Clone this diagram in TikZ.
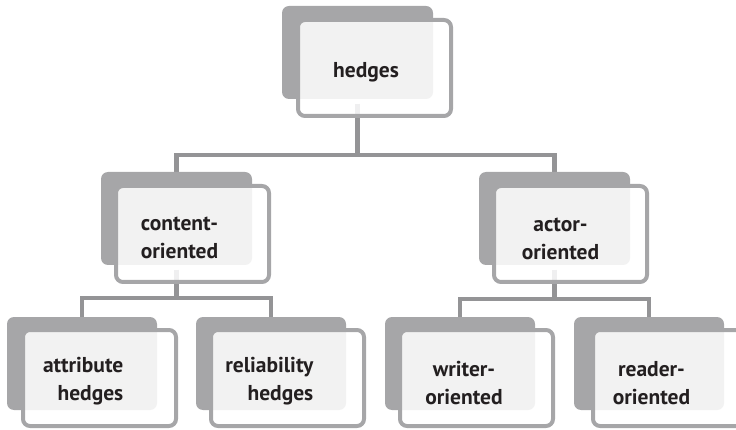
\documentclass[tikz,border=0pt]{standalone}
\usepackage{fontspec}
\setmainfont{PT Sans}
\usetikzlibrary{backgrounds}
\definecolor{boxgrey}{RGB}{166,166,168}
\definecolor{linegrey}{RGB}{148,148,150}
\definecolor{txtcol}{RGB}{35,31,32}
\begin{document}
\begin{tikzpicture}[x=1pt,y=-1pt,
  backbox/.style={fill=boxgrey, draw=none, rounded corners=7pt, minimum width=151pt, minimum height=93pt,
    inner sep=0pt, outer sep=0pt, anchor=north west},
  framebox/.style={draw=boxgrey, line width=4pt, fill=white, fill opacity=0.86, rounded corners=7pt,
    minimum width=153pt, minimum height=96pt, inner sep=0pt, outer sep=0pt, anchor=north west},
  label/.style={text=txtcol, inner sep=0pt, align=center, font=\fontsize{21.5}{27.5}\selectfont\bfseries},
  conn/.style={draw=linegrey, line width=4.5pt}]
\useasboundingbox (0,0) rectangle (736,430);
\clip (0,0) rectangle (736,430);
% back boxes
\node[backbox] (topbg) at (282,6) {};
\node[backbox] (contbg) at (101,172) {};
\node[backbox] (actbg) at (479,172) {};
\node[backbox, minimum width=150pt] (attrbg) at (7,317) {};
\node[backbox, minimum width=150pt] (relbg) at (196,317) {};
\node[backbox, minimum width=150pt] (wribg) at (385,317) {};
\node[backbox, minimum width=150pt] (reabg) at (574,317) {};
% frames
\node[framebox] (top) at (298,20) {};
\node[framebox] (cont) at (116,186) {};
\node[framebox] (act) at (494,186) {};
\node[framebox] (attr) at (23,330) {};
\node[framebox] (rel) at (211,330) {};
\node[framebox] (wri) at (400,330) {};
\node[framebox] (rea) at (593,330) {};
% texts
\node[label] (toptxt) at (366,72) {hedges};
\node[label] (conttxt) at (179.5,238) {content-\\oriented};
\node[label] (acttxt) at (560.5,239) {actor-\\oriented};
\node[label, align=right, anchor=east] (attrtxt) at (123.5,381) {attribute\\hedges};
\node[label, align=right, anchor=east] (reltxt) at (313.5,381) {reliability\\hedges};
\node[label] (writxt) at (464,383) {writer-\\oriented};
\node[label] (reatxt) at (651.5,383) {reader-\\oriented};
% connectors
\begin{scope}[on background layer]
\draw[conn] ([yshift=-5pt]topbg.south) -- ++(0,51) -| (contbg.north);
\draw[conn] ([yshift=-5pt]topbg.south) -- ++(0,51) -| (actbg.north);
\draw[conn] ([yshift=-5pt]contbg.south) -- ++(0,28) -| (attrbg.north);
\draw[conn] ([yshift=-5pt]contbg.south) -- ++(0,28) -| (relbg.north);
\draw[conn] ([yshift=-5pt]actbg.south) -- ++(0,29) -| (wribg.north);
\draw[conn] ([yshift=-5pt]actbg.south) -- ++(0,29) -| (reabg.north);
\end{scope}
\end{tikzpicture}
\end{document}
